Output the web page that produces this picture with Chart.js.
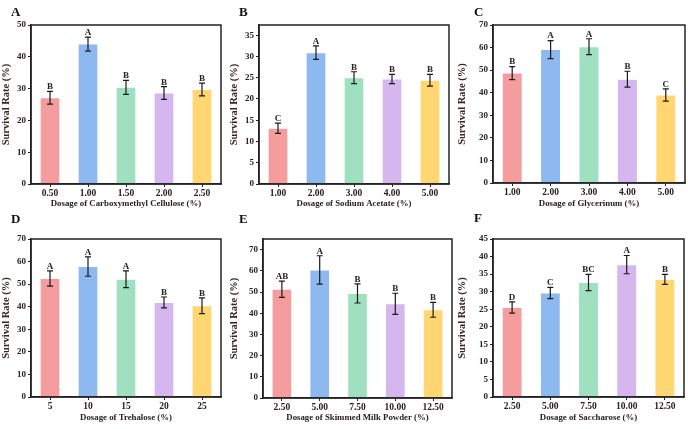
<!DOCTYPE html>
<html>
<head>
<meta charset="utf-8">
<script src="https://cdn.jsdelivr.net/npm/chart.js@4/dist/chart.umd.min.js"></script>
<style>
  body { margin: 0; background: #fff; }
  #wrap { position: relative; width: 688px; height: 429px; overflow: hidden; }
  .panel { position: absolute; }
</style>
</head>
<body>
<div id="wrap"></div>
<script>
// ---- data ----
const barColors = ['#F59C9E', '#8DB8F0', '#9FE0C0', '#D5B6EE', '#FFD672'];

const labelsA = ['0.50', '1.00', '1.50', '2.00', '2.50'];
const meansA  = [27.1, 44.0, 30.4, 28.6, 29.7];
const errA    = [2.0, 2.2, 2.2, 2.0, 2.0];
const groupsA = ['B', 'A', 'B', 'B', 'B'];

const labelsB = ['1.00', '2.00', '3.00', '4.00', '5.00'];
const meansB  = [13.1, 30.9, 25.0, 24.7, 24.4];
const errB    = [1.2, 1.6, 1.4, 1.1, 1.4];
const groupsB = ['C', 'A', 'B', 'B', 'B'];

const labelsC = ['1.00', '2.00', '3.00', '4.00', '5.00'];
const meansC  = [48.7, 59.1, 60.4, 46.0, 39.0];
const errC    = [2.9, 4.0, 3.5, 3.5, 2.7];
const groupsC = ['B', 'A', 'A', 'B', 'C'];

const labelsD = ['5', '10', '15', '20', '25'];
const meansD  = [52.5, 57.8, 52.2, 41.9, 40.4];
const errD    = [3.4, 4.3, 3.7, 2.4, 3.5];
const groupsD = ['A', 'A', 'A', 'B', 'B'];

const labelsE = ['2.50', '5.00', '7.50', '10.00', '12.50'];
const meansE  = [51.3, 60.4, 49.3, 44.4, 41.6];
const errE    = [3.8, 6.7, 4.5, 5.0, 3.5];
const groupsE = ['AB', 'A', 'B', 'B', 'B'];

const labelsF = ['2.50', '5.00', '7.50', '10.00', '12.50'];
const meansF  = [25.5, 29.6, 32.6, 37.7, 33.5];
const errF    = [1.6, 1.6, 2.3, 2.6, 1.4];
const groupsF = ['D', 'C', 'BC', 'A', 'B'];

const titlesX = [
  'Dosage of Carboxymethyl Cellulose (%)',
  'Dosage of Sodium Acetate (%)',
  'Dosage of Glycerinum (%)',
  'Dosage of Trehalose (%)',
  'Dosage of Skimmed Milk Powder (%)',
  'Dosage of Saccharose (%)'
];
const panelLetters = ['A', 'B', 'C', 'D', 'E', 'F'];
const yMax  = [50, 37.4, 70, 70, 75, 45];
const yStep = [10, 5, 10, 10, 10, 5];

// ---- layout of the six panels ----
const boxes = [
  {left: 0,   top: 0,   w: 229, h: 209, yw: 31, padTop: 25, padRight: 8, letterY: 16},
  {left: 228, top: 0,   w: 229, h: 209, yw: 31, padTop: 25, padRight: 8, letterY: 16},
  {left: 456, top: 0,   w: 232, h: 209, yw: 37, padTop: 25, padRight: 3, letterY: 16},
  {left: 0,   top: 214, w: 229, h: 209, yw: 31, padTop: 25, padRight: 8, letterY: 9},
  {left: 228, top: 214, w: 229, h: 209, yw: 35, padTop: 25, padRight: 5, letterY: 9},
  {left: 456, top: 214, w: 232, h: 209, yw: 37, padTop: 25, padRight: 4, letterY: 8}
];
const xAxisH = [25, 25, 26, 26, 25, 26];

const series = [
  [labelsA, meansA, errA, groupsA],
  [labelsB, meansB, errB, groupsB],
  [labelsC, meansC, errC, groupsC],
  [labelsD, meansD, errD, groupsD],
  [labelsE, meansE, errE, groupsE],
  [labelsF, meansF, errF, groupsF]
];

const ink = '#2a2020';
const serif = '"Liberation Serif", "Times New Roman", serif';

// error bars, group letters, full frame and panel letter
const decorate = {
  id: 'decorate',
  afterDatasetsDraw(chart, args, opts) {
    let ctx = chart.ctx;
    let meta = chart.getDatasetMeta(0);
    let ys = chart.scales.y;
    let area = chart.chartArea;
    ctx.save();
    ctx.strokeStyle = '#1a1a1a';
    ctx.lineWidth = 1.2;
    meta.data.forEach((bar, i) => {
      let m = opts.means[i], e = opts.errs[i];
      let yt = ys.getPixelForValue(m + e);
      let yb = ys.getPixelForValue(m - e);
      let x = bar.x;
      ctx.beginPath();
      ctx.moveTo(x, yt); ctx.lineTo(x, yb);
      ctx.moveTo(x - 3, yt); ctx.lineTo(x + 3, yt);
      ctx.moveTo(x - 3, yb); ctx.lineTo(x + 3, yb);
      ctx.stroke();
      ctx.fillStyle = ink;
      ctx.font = 'bold 9px ' + serif;
      ctx.textAlign = 'center';
      ctx.textBaseline = 'bottom';
      ctx.fillText(opts.groups[i], x, yt);
    });
    ctx.strokeStyle = '#222';
    ctx.lineWidth = 1.5;
    ctx.strokeRect(area.left, area.top, area.right - area.left, area.bottom - area.top);
    ctx.fillStyle = '#111';
    ctx.font = 'bold 13px ' + serif;
    ctx.textAlign = 'left';
    ctx.textBaseline = 'alphabetic';
    ctx.fillText(opts.letter, opts.letterX, opts.letterY);
    ctx.restore();
  }
};

let wrap = document.getElementById('wrap');

boxes.forEach((b, k) => {
  let div = document.createElement('div');
  div.className = 'panel';
  div.style.left = b.left + 'px';
  div.style.top = b.top + 'px';
  div.style.width = b.w + 'px';
  div.style.height = b.h + 'px';
  let canvas = document.createElement('canvas');
  div.appendChild(canvas);
  wrap.appendChild(div);

  let [labels, means, errs, groups] = series[k];
  let step = yStep[k];

  new Chart(canvas.getContext('2d'), {
    type: 'bar',
    data: {
      labels: labels,
      datasets: [{
        data: means,
        backgroundColor: barColors,
        borderColor: 'rgba(255,255,255,0.6)',
        borderWidth: 0.5,
        categoryPercentage: 1,
        barPercentage: 0.52
      }]
    },
    plugins: [decorate],
    options: {
      responsive: true,
      maintainAspectRatio: false,
      animation: false,
      devicePixelRatio: 1,
      layout: { padding: { top: b.padTop, right: b.padRight, left: 0, bottom: 0 } },
      plugins: {
        legend: { display: false },
        tooltip: { enabled: false },
        decorate: {
          means: means, errs: errs, groups: groups,
          letter: panelLetters[k],
          letterX: (k === 2 || k === 5) ? 18 : 11,
          letterY: b.letterY
        }
      },
      scales: {
        x: {
          offset: true,
          grid: { display: true, drawOnChartArea: false, offset: false, tickLength: 3, color: '#222', lineWidth: 1 },
          border: { color: '#222', width: 1.5 },
          ticks: { color: ink, font: { family: serif, size: 9.5, weight: 'bold' }, padding: 1, maxRotation: 0 },
          title: { display: true, text: titlesX[k], color: ink, font: { family: serif, size: 8.8, weight: 'bold' }, padding: { top: 0, bottom: 0 } },
          afterFit(scale) { scale.height = xAxisH[k]; }
        },
        y: {
          min: 0,
          max: yMax[k],
          grid: { display: true, drawOnChartArea: false, tickLength: 3, color: '#222', lineWidth: 1 },
          border: { color: '#222', width: 1.5 },
          ticks: { stepSize: step, color: ink, font: { family: serif, size: 9, weight: 'bold' }, padding: 2 },
          afterBuildTicks(scale) {
            scale.ticks = scale.ticks.filter(t => Math.abs(t.value / step - Math.round(t.value / step)) < 1e-6);
          },
          title: { display: true, text: 'Survival Rate (%)', color: '#3b2424', font: { family: serif, size: 10.5, weight: 'bold' }, padding: { top: 0, bottom: 0 } },
          afterFit(scale) { scale.width = b.yw; }
        }
      }
    }
  });
});
</script>
</body>
</html>
